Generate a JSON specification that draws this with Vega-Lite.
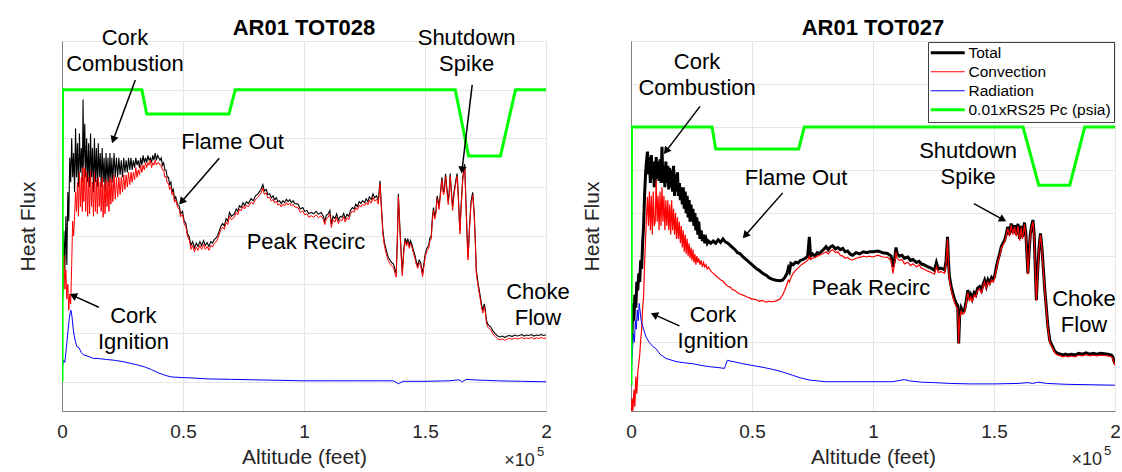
{
"$schema": "https://vega.github.io/schema/vega-lite/v6.json",
"background": "white",
"padding": {"left": 16, "top": 16, "right": 5, "bottom": 2},
"bounds": "flush",
"spacing": 85,
"config": {
  "font": "Liberation Sans",
  "view": {"stroke": "#b4b4b4", "strokeWidth": 1},
  "axis": {"gridColor": "#e6e6e6", "gridWidth": 1, "domainColor": "#808080", "labelColor": "#262626", "titleColor": "#262626", "titleFontWeight": "normal", "labelFont": "Liberation Sans", "titleFont": "Liberation Sans"}
},
"datasets": {
"left": [
{"x":0,"T":1.5,"C":1.5,"R":0.2,"P":0},
{"x":0.002,"T":1.6,"C":1.8},{"x":0.004,"T":1.9,"C":2.1},{"x":0.008,"T":3.1,"C":2.6},{"x":0.012,"T":2.3,"C":1.9},{"x":0.016,"T":3.4,"C":2.3},{"x":0.02,"T":2.4,"C":1.7},{"x":0.024,"T":3.9,"C":2.0},{"x":0.028,"T":3.3,"C":1.47},{"x":0.032,"T":4.6,"C":1.8},{"x":0.036,"T":4.1,"C":1.6},{"x":0.04,"T":5.0,"C":2.4},{"x":0.044,"T":4.2,"C":3.3},{"x":0.048,"T":4.7,"C":3.0},{"x":0.052,"T":3.9,"C":3.4},{"x":0.056,"T":5.2,"C":3.9},{"x":0.06,"T":4.2,"C":3.5},{"x":0.064,"T":4.9,"C":4.1},{"x":0.068,"T":4.0,"C":3.4},{"x":0.072,"T":5.1,"C":4.3},{"x":0.076,"T":4.3,"C":3.6},{"x":0.08,"T":4.8,"C":4.2},{"x":0.084,"T":4.1,"C":3.5},{"x":0.087,"T":5.8,"C":4.4},{"x":0.09,"T":4.4,"C":3.7},{"x":0.094,"T":5.3,"C":4.4},{"x":0.098,"T":4.2,"C":3.5},{"x":0.102,"T":5.0,"C":4.3},{"x":0.106,"T":4.1,"C":3.4},{"x":0.11,"T":4.9,"C":4.2},{"x":0.114,"T":4.0,"C":3.45},{"x":0.118,"T":5.1,"C":4.35},{"x":0.122,"T":4.2,"C":3.6},{"x":0.126,"T":4.8,"C":4.1},{"x":0.13,"T":3.9,"C":3.4},{"x":0.134,"T":5.0,"C":4.3},{"x":0.138,"T":4.1,"C":3.5},{"x":0.142,"T":4.8,"C":4.15},{"x":0.146,"T":4.0,"C":3.45},{"x":0.15,"T":4.9,"C":4.2},{"x":0.154,"T":4.2,"C":3.6},{"x":0.158,"T":4.7,"C":4.1},{"x":0.162,"T":4.0,"C":3.5},{"x":0.166,"T":4.8,"C":4.2},{"x":0.17,"T":4.1,"C":3.38},{"x":0.174,"T":4.6,"C":4.05},{"x":0.178,"T":3.9,"C":3.45},{"x":0.182,"T":4.7,"C":4.15},{"x":0.186,"T":4.1,"C":3.6},{"x":0.19,"T":4.6,"C":4.1},{"x":0.194,"T":4.0,"C":3.5},{"x":0.198,"T":4.7,"C":4.2},{"x":0.202,"T":4.1,"C":3.65},{"x":0.206,"T":4.6,"C":4.15},{"x":0.21,"T":4.1,"C":3.7},{"x":0.215,"T":4.7,"C":4.25},{"x":0.22,"T":4.2,"C":3.75},{"x":0.225,"T":4.6,"C":4.2},{"x":0.23,"T":4.2,"C":3.8},{"x":0.235,"T":4.6,"C":4.2},{"x":0.24,"T":4.25,"C":3.85},{"x":0.245,"T":4.55,"C":4.2},{"x":0.25,"T":4.2,"C":3.9},{"x":0.255,"T":4.6,"C":4.25},{"x":0.26,"T":4.3,"C":3.95},{"x":0.265,"T":4.55,"C":4.25},{"x":0.27,"T":4.3,"C":4.0},{"x":0.275,"T":4.6,"C":4.3},{"x":0.28,"T":4.35,"C":4.05},{"x":0.285,"T":4.6,"C":4.3},{"x":0.29,"T":4.35,"C":4.1},{"x":0.295,"T":4.55,"C":4.3},{"x":0.3,"T":4.4,"C":4.15},{"x":0.305,"T":4.6,"C":4.4},{"x":0.31,"T":4.45,"C":4.2},{"x":0.315,"T":4.55,"C":4.35},{"x":0.32,"T":4.4,"C":4.25},{"x":0.325,"T":4.6,"C":4.45},{"x":0.33,"T":4.45,"C":4.3},{"x":0.335,"T":4.65,"C":4.45},{"x":0.34,"T":4.5,"C":4.35},{"x":0.345,"T":4.6,"C":4.5},{"x":0.35,"T":4.5,"C":4.4},{"x":0.355,"T":4.65,"C":4.5},{"x":0.36,"T":4.55,"C":4.45},{"x":0.365,"T":4.6,"C":4.55},{"x":0.37,"T":4.5,"C":4.4},{"x":0.375,"T":4.65,"C":4.5},{"x":0.38,"T":4.55,"C":4.45},{"x":0.385,"T":4.7,"C":4.55},{"x":0.39,"T":4.55,"C":4.45},{"x":0.395,"T":4.65,"C":4.5},{"x":0.4,"T":4.6,"C":4.5},{"x":0.405,"T":4.55,"C":4.45},{"x":0.41,"T":4.6,"C":4.45},{"x":0.415,"T":4.45,"C":4.35},{"x":0.42,"T":4.5,"C":4.35},{"x":0.425,"T":4.35,"C":4.2},{"x":0.43,"T":4.35,"C":4.22},{"x":0.435,"T":4.2,"C":4.08},{"x":0.44,"T":4.2,"C":4.08},{"x":0.445,"T":4.05,"C":3.95},{"x":0.45,"T":4.1,"C":4.0},
{"x":0.455,"T":3.9,"C":3.84},{"x":0.46,"T":3.95,"C":3.89},{"x":0.465,"T":3.75,"C":3.69},{"x":0.47,"T":3.8,"C":3.74},{"x":0.477,"T":3.65,"C":3.59},{"x":0.485,"T":3.6,"C":3.54},{"x":0.49,"T":3.45,"C":3.39},{"x":0.498,"T":3.5,"C":3.44},{"x":0.505,"T":3.3,"C":3.24},{"x":0.512,"T":3.25,"C":3.19},{"x":0.518,"T":3.05,"C":2.99},{"x":0.526,"T":2.97,"C":2.91},{"x":0.533,"T":2.8,"C":2.72},{"x":0.54,"T":2.88,"C":2.8},{"x":0.547,"T":2.75,"C":2.67},{"x":0.555,"T":2.85,"C":2.77},{"x":0.562,"T":2.78,"C":2.7},{"x":0.57,"T":2.88,"C":2.8},{"x":0.577,"T":2.8,"C":2.72},{"x":0.585,"T":2.9,"C":2.82},{"x":0.592,"T":2.8,"C":2.72},{"x":0.6,"T":2.86,"C":2.78},{"x":0.607,"T":2.78,"C":2.7},{"x":0.615,"T":2.88,"C":2.8},{"x":0.622,"T":2.85,"C":2.77},{"x":0.629,"T":2.92,"C":2.84},{"x":0.636,"T":2.95,"C":2.87},{"x":0.643,"T":3.0,"C":2.93},{"x":0.65,"T":3.1,"C":3.03},{"x":0.657,"T":3.2,"C":3.13},{"x":0.664,"T":3.25,"C":3.18},{"x":0.671,"T":3.2,"C":3.13},{"x":0.678,"T":3.35,"C":3.28},{"x":0.685,"T":3.3,"C":3.23},{"x":0.692,"T":3.48,"C":3.41},{"x":0.7,"T":3.4,"C":3.33},{"x":0.712,"T":3.45,"C":3.38},{"x":0.72,"T":3.55,"C":3.48},{"x":0.727,"T":3.5,"C":3.43},{"x":0.733,"T":3.62,"C":3.55},{"x":0.74,"T":3.58,"C":3.51},{"x":0.748,"T":3.68,"C":3.61},{"x":0.755,"T":3.62,"C":3.55},{"x":0.762,"T":3.7,"C":3.63},{"x":0.77,"T":3.66,"C":3.59},{"x":0.781,"T":3.76,"C":3.69},{"x":0.79,"T":3.72,"C":3.65},{"x":0.8,"T":3.82,"C":3.75},{"x":0.809,"T":3.86,"C":3.79},{"x":0.815,"T":3.9,"C":3.83},{"x":0.822,"T":3.95,"C":3.88},{"x":0.83,"T":4.05,"C":3.98},{"x":0.836,"T":3.92,"C":3.85},{"x":0.844,"T":3.95,"C":3.88},{"x":0.85,"T":3.85,"C":3.78},{"x":0.858,"T":3.86,"C":3.79},{"x":0.865,"T":3.78,"C":3.71},{"x":0.872,"T":3.82,"C":3.75},{"x":0.878,"T":3.74,"C":3.67},{"x":0.886,"T":3.78,"C":3.71},{"x":0.892,"T":3.7,"C":3.63},{"x":0.899,"T":3.72,"C":3.65},{"x":0.906,"T":3.66,"C":3.59},{"x":0.913,"T":3.72,"C":3.65},{"x":0.92,"T":3.68,"C":3.61},{"x":0.927,"T":3.75,"C":3.68},{"x":0.934,"T":3.7,"C":3.63},{"x":0.941,"T":3.74,"C":3.67},{"x":0.948,"T":3.68,"C":3.61},{"x":0.955,"T":3.72,"C":3.65},{"x":0.962,"T":3.66,"C":3.59},{"x":0.975,"T":3.65,"C":3.58},{"x":0.985,"T":3.55,"C":3.48},{"x":0.995,"T":3.58,"C":3.51},{"x":1.003,"T":3.5,"C":3.43},{"x":1.012,"T":3.52,"C":3.45},{"x":1.02,"T":3.45,"C":3.38},{"x":1.03,"T":3.48,"C":3.41},{"x":1.04,"T":3.45,"C":3.38},{"x":1.05,"T":3.5,"C":3.43},{"x":1.06,"T":3.44,"C":3.37},{"x":1.07,"T":3.48,"C":3.41},{"x":1.08,"T":3.4,"C":3.33},{"x":1.086,"T":3.3,"C":3.23},{"x":1.092,"T":3.42,"C":3.35},{"x":1.1,"T":3.45,"C":3.38},{"x":1.107,"T":3.52,"C":3.45},{"x":1.113,"T":3.24,"C":3.17},{"x":1.12,"T":3.4,"C":3.33},{"x":1.128,"T":3.35,"C":3.28},{"x":1.135,"T":3.45,"C":3.38},{"x":1.142,"T":3.32,"C":3.25},{"x":1.15,"T":3.4,"C":3.33},{"x":1.157,"T":3.38,"C":3.31},{"x":1.164,"T":3.46,"C":3.39},{"x":1.17,"T":3.35,"C":3.28},{"x":1.178,"T":3.44,"C":3.37},{"x":1.185,"T":3.4,"C":3.33},{"x":1.192,"T":3.52,"C":3.45},{"x":1.2,"T":3.58,"C":3.51},{"x":1.207,"T":3.55,"C":3.48},{"x":1.214,"T":3.65,"C":3.58},{"x":1.221,"T":3.6,"C":3.53},{"x":1.228,"T":3.7,"C":3.63},{"x":1.235,"T":3.66,"C":3.59},{"x":1.242,"T":3.72,"C":3.65},{"x":1.25,"T":3.68,"C":3.61},{"x":1.257,"T":3.76,"C":3.69},{"x":1.264,"T":3.7,"C":3.63},{"x":1.27,"T":3.8,"C":3.73},{"x":1.278,"T":3.74,"C":3.67},{"x":1.285,"T":3.86,"C":3.79},{"x":1.292,"T":3.78,"C":3.71},{"x":1.3,"T":3.82,"C":3.75},{"x":1.307,"T":3.72,"C":3.65},{"x":1.314,"T":4.13,"C":4.06},{"x":1.32,"T":3.6,"C":3.53},{"x":1.326,"T":3.1,"C":3.03},{"x":1.332,"T":2.87,"C":2.8},{"x":1.34,"T":2.7,"C":2.63},{"x":1.348,"T":2.56,"C":2.49},{"x":1.355,"T":2.5,"C":2.43},{"x":1.362,"T":2.45,"C":2.38},{"x":1.37,"T":2.42,"C":2.35},{"x":1.376,"T":2.3,"C":2.23},{"x":1.381,"T":2.22,"C":2.15},{"x":1.386,"T":3.0,"C":2.94},{"x":1.39,"T":3.86,"C":3.8},{"x":1.395,"T":3.3,"C":3.24},{"x":1.4,"T":2.8,"C":2.74},{"x":1.406,"T":2.25,"C":2.18},{"x":1.412,"T":2.7,"C":2.64},{"x":1.418,"T":2.95,"C":2.89},{"x":1.424,"T":2.85,"C":2.79},{"x":1.429,"T":2.94,"C":2.88},{"x":1.435,"T":2.8,"C":2.74},{"x":1.44,"T":2.9,"C":2.84},{"x":1.446,"T":2.82,"C":2.76},{"x":1.452,"T":2.7,"C":2.64},{"x":1.459,"T":2.59,"C":2.53},{"x":1.465,"T":2.45,"C":2.39},{"x":1.47,"T":2.39,"C":2.33},{"x":1.476,"T":2.5,"C":2.44},{"x":1.482,"T":2.45,"C":2.39},{"x":1.49,"T":2.22,"C":2.16},{"x":1.496,"T":2.45,"C":2.39},{"x":1.501,"T":2.63,"C":2.57},{"x":1.508,"T":2.75,"C":2.69},{"x":1.515,"T":2.8,"C":2.74},{"x":1.52,"T":2.95,"C":2.89},{"x":1.526,"T":3.0,"C":2.94},{"x":1.53,"T":3.35,"C":3.29},{"x":1.535,"T":3.58,"C":3.52},{"x":1.54,"T":3.4,"C":3.34},{"x":1.545,"T":3.5,"C":3.44},{"x":1.55,"T":3.82,"C":3.76},{"x":1.555,"T":3.7,"C":3.64},{"x":1.558,"T":3.6,"C":3.54},{"x":1.564,"T":3.9,"C":3.84},{"x":1.57,"T":4.2,"C":4.14},{"x":1.576,"T":3.9,"C":3.84},{"x":1.58,"T":3.95,"C":3.89},{"x":1.585,"T":4.27,"C":4.21},{"x":1.59,"T":4.0,"C":3.94},{"x":1.596,"T":3.7,"C":3.64},{"x":1.6,"T":3.9,"C":3.84},{"x":1.604,"T":4.28,"C":4.22},{"x":1.608,"T":4.0,"C":3.94},{"x":1.614,"T":3.58,"C":3.52},{"x":1.62,"T":3.9,"C":3.84},{"x":1.626,"T":4.1,"C":4.04},{"x":1.633,"T":4.28,"C":4.22},{"x":1.638,"T":3.8,"C":3.74},{"x":1.644,"T":3.1,"C":3.04},{"x":1.65,"T":3.7,"C":3.64},{"x":1.656,"T":4.2,"C":4.14},{"x":1.664,"T":4.47,"C":4.41},{"x":1.67,"T":3.6,"C":3.54},{"x":1.674,"T":3.0,"C":2.94},{"x":1.678,"T":2.56,"C":2.5},{"x":1.684,"T":3.2,"C":3.14},{"x":1.69,"T":3.7,"C":3.64},{"x":1.697,"T":3.89,"C":3.83},{"x":1.703,"T":3.5,"C":3.44},{"x":1.708,"T":2.9,"C":2.84},{"x":1.712,"T":2.29,"C":2.23},{"x":1.72,"T":2.0,"C":1.94},{"x":1.729,"T":1.74,"C":1.68},{"x":1.735,"T":1.55,"C":1.49},{"x":1.739,"T":1.47,"C":1.41},{"x":1.745,"T":1.6,"C":1.54},{"x":1.749,"T":1.5,"C":1.44},{"x":1.754,"T":1.26,"C":1.2},{"x":1.76,"T":1.18,"C":1.12},{"x":1.771,"T":1.13,"C":1.07},{"x":1.78,"T":1.05,"C":0.99},{"x":1.79,"T":0.99,"C":0.93},{"x":1.8,"T":0.94,"C":0.88},{"x":1.81,"T":0.92,"C":0.86},{"x":1.82,"T":0.94,"C":0.88},{"x":1.83,"T":0.91,"C":0.85},{"x":1.84,"T":0.94,"C":0.88},{"x":1.85,"T":0.95,"C":0.89},{"x":1.86,"T":0.93,"C":0.87},{"x":1.87,"T":0.96,"C":0.9},{"x":1.88,"T":0.94,"C":0.88},{"x":1.89,"T":0.95,"C":0.89},{"x":1.9,"T":0.97,"C":0.91},{"x":1.91,"T":0.94,"C":0.88},{"x":1.92,"T":0.96,"C":0.9},{"x":1.93,"T":0.95,"C":0.89},{"x":1.94,"T":0.97,"C":0.91},{"x":1.95,"T":0.94,"C":0.88},{"x":1.96,"T":0.96,"C":0.9},{"x":1.97,"T":0.95,"C":0.89},{"x":1.98,"T":0.97,"C":0.91},{"x":1.99,"T":0.95,"C":0.89},{"x":2.0,"T":0.96,"C":0.9},
{"x":0.002,"R":0.3},{"x":0.006,"R":0.45},{"x":0.012,"R":0.4},{"x":0.018,"R":0.7},{"x":0.024,"R":1.0},{"x":0.03,"R":1.3},{"x":0.034,"R":1.42},{"x":0.037,"R":1.47},{"x":0.041,"R":1.35},{"x":0.046,"R":1.1},{"x":0.052,"R":0.9},{"x":0.058,"R":0.78},{"x":0.062,"R":0.72},{"x":0.07,"R":0.7},{"x":0.08,"R":0.6},{"x":0.09,"R":0.55},{"x":0.11,"R":0.52},{"x":0.13,"R":0.48},{"x":0.145,"R":0.48},{"x":0.18,"R":0.46},{"x":0.22,"R":0.44},{"x":0.256,"R":0.41},{"x":0.3,"R":0.36},{"x":0.339,"R":0.31},{"x":0.37,"R":0.25},{"x":0.4,"R":0.18},{"x":0.422,"R":0.14},{"x":0.45,"R":0.1},{"x":0.5,"R":0.085},{"x":0.533,"R":0.08},{"x":0.6,"R":0.06},{"x":0.7,"R":0.05},{"x":0.8,"R":0.04},{"x":0.9,"R":0.03},{"x":1.0,"R":0.02},{"x":1.1,"R":0.02},{"x":1.2,"R":0.02},{"x":1.3,"R":0.02},{"x":1.37,"R":0.02},{"x":1.39,"R":-0.04},{"x":1.41,"R":0.01},{"x":1.5,"R":0.01},{"x":1.6,"R":0.02},{"x":1.64,"R":0.04},{"x":1.655,"R":0.0},{"x":1.67,"R":0.05},{"x":1.7,"R":0.04},{"x":1.75,"R":0.03},{"x":1.8,"R":0.02},{"x":1.9,"R":0.01},{"x":2.0,"R":0.0},
{"x":0.002,"P":6},{"x":0.33,"P":6},{"x":0.35,"P":5.5},{"x":0.69,"P":5.5},{"x":0.716,"P":6},{"x":1.625,"P":6},{"x":1.68,"P":4.64},{"x":1.812,"P":4.64},{"x":1.874,"P":6},{"x":2.0,"P":6}
],
"right": [
{"x":0,"T":1.0,"C":-0.6,"R":0.0,"P":0},
{"x":0.002,"T":1.0,"C":-0.6},{"x":0.004,"T":1.2,"C":-0.3},{"x":0.008,"T":1.9,"C":-0.6},{"x":0.012,"T":1.5,"C":-0.1},{"x":0.016,"T":2.1,"C":-0.5},{"x":0.02,"T":1.8,"C":0.2},{"x":0.024,"T":2.4,"C":-0.2},{"x":0.028,"T":2.2,"C":0.3},{"x":0.032,"T":2.6,"C":0.5},{"x":0.036,"T":2.4,"C":0.7},{"x":0.04,"T":2.9,"C":1.05},{"x":0.044,"T":2.7,"C":1.3},{"x":0.048,"T":3.3,"C":1.8},{"x":0.052,"T":3.7,"C":2.05},{"x":0.056,"T":4.4,"C":2.8},{"x":0.06,"T":4.9,"C":3.37},{"x":0.064,"T":5.2,"C":3.9},{"x":0.068,"T":5.43,"C":4.38},{"x":0.072,"T":4.9,"C":3.7},{"x":0.076,"T":5.3,"C":4.5},{"x":0.08,"T":4.7,"C":3.6},{"x":0.084,"T":5.35,"C":4.4},{"x":0.088,"T":4.8,"C":3.5},{"x":0.092,"T":5.2,"C":4.5},{"x":0.096,"T":4.6,"C":3.7},{"x":0.1,"T":4.7,"C":3.8},{"x":0.104,"T":5.3,"C":4.77},{"x":0.108,"T":4.8,"C":3.8},{"x":0.112,"T":5.2,"C":4.4},{"x":0.116,"T":4.75,"C":3.6},{"x":0.12,"T":5.25,"C":4.5},{"x":0.124,"T":4.7,"C":3.7},{"x":0.128,"T":5.54,"C":4.6},{"x":0.132,"T":4.7,"C":3.8},{"x":0.136,"T":5.1,"C":4.4},{"x":0.14,"T":4.6,"C":3.6},{"x":0.144,"T":5.2,"C":4.3},{"x":0.148,"T":4.7,"C":3.7},{"x":0.152,"T":5.1,"C":4.3},{"x":0.156,"T":4.55,"C":3.6},{"x":0.16,"T":5.05,"C":4.2},{"x":0.164,"T":4.6,"C":3.5},{"x":0.168,"T":5.0,"C":4.3},{"x":0.172,"T":4.5,"C":3.6},{"x":0.176,"T":5.1,"C":4.1},{"x":0.18,"T":4.4,"C":3.5},{"x":0.184,"T":4.9,"C":4.0},{"x":0.188,"T":4.5,"C":3.4},{"x":0.192,"T":4.95,"C":3.9},{"x":0.196,"T":4.4,"C":3.4},{"x":0.2,"T":4.7,"C":3.8},{"x":0.204,"T":4.3,"C":3.3},{"x":0.208,"T":4.6,"C":3.7},{"x":0.212,"T":4.2,"C":3.2},{"x":0.216,"T":4.6,"C":3.6},{"x":0.22,"T":4.1,"C":3.1},{"x":0.224,"T":4.5,"C":3.5},{"x":0.228,"T":4.0,"C":3.05},{"x":0.232,"T":4.4,"C":3.4},{"x":0.236,"T":3.9,"C":3.0},{"x":0.24,"T":4.3,"C":3.3},{"x":0.244,"T":3.8,"C":2.95},{"x":0.248,"T":4.2,"C":3.2},{"x":0.252,"T":3.8,"C":2.9},{"x":0.256,"T":4.1,"C":3.15},{"x":0.26,"T":3.7,"C":2.85},{"x":0.264,"T":4.0,"C":3.05},{"x":0.268,"T":3.6,"C":2.8},{"x":0.272,"T":3.9,"C":3.0},{"x":0.276,"T":3.5,"C":2.85},{"x":0.28,"T":3.8,"C":2.95},{"x":0.285,"T":3.4,"C":2.8},{"x":0.29,"T":3.6,"C":2.9},{"x":0.295,"T":3.35,"C":2.75},{"x":0.3,"T":3.5,"C":2.85},{"x":0.305,"T":3.3,"C":2.75},{"x":0.31,"T":3.4,"C":2.8},{"x":0.315,"T":3.3,"C":2.7},{"x":0.32,"T":3.35,"C":2.75},{"x":0.33,"T":3.3,"C":2.65},{"x":0.34,"T":3.35,"C":2.6},{"x":0.35,"T":3.3,"C":2.55},{"x":0.36,"T":3.38,"C":2.5},{"x":0.37,"T":3.32,"C":2.45},{"x":0.38,"T":3.4,"C":2.42},{"x":0.39,"T":3.33,"C":2.35},{"x":0.4,"T":3.3,"C":2.3},{"x":0.41,"T":3.25,"C":2.28},{"x":0.42,"T":3.2,"C":2.22},{"x":0.43,"T":3.15,"C":2.2},{"x":0.44,"T":3.08,"C":2.15},{"x":0.45,"T":3.06,"C":2.12},{"x":0.46,"T":3.0,"C":2.1},{"x":0.47,"T":2.95,"C":2.08},{"x":0.48,"T":2.9,"C":2.05},{"x":0.49,"T":2.85,"C":2.03},{"x":0.5,"T":2.8,"C":2.0},{"x":0.51,"T":2.75,"C":2.0},{"x":0.52,"T":2.7,"C":1.98},{"x":0.53,"T":2.67,"C":1.95},{"x":0.54,"T":2.62,"C":1.97},{"x":0.55,"T":2.58,"C":1.95},{"x":0.56,"T":2.55,"C":1.93},{"x":0.57,"T":2.5,"C":1.95},{"x":0.585,"T":2.46,"C":1.94},{"x":0.6,"T":2.44,"C":1.96},{"x":0.615,"T":2.43,"C":2.0},{"x":0.626,"T":2.44,"C":2.09},{"x":0.635,"T":2.5,"C":2.2},{"x":0.645,"T":2.6,"C":2.35},{"x":0.65,"T":2.72,"C":2.44},{"x":0.655,"T":2.65,"C":2.4},{"x":0.661,"T":2.83,"C":2.5},{"x":0.67,"T":2.8,"C":2.6},{"x":0.68,"T":2.86,"C":2.67},{"x":0.69,"T":2.84,"C":2.72},{"x":0.7,"T":2.9,"C":2.78},{"x":0.71,"T":2.92,"C":2.82},{"x":0.72,"T":2.95,"C":2.86},{"x":0.73,"T":3.0,"C":2.9},{"x":0.737,"T":3.45,"C":3.0},{"x":0.742,"T":3.0,"C":2.92},{"x":0.75,"T":3.05,"C":2.95},{"x":0.76,"T":3.0,"C":2.97},{"x":0.77,"T":3.08,"C":3.0},{"x":0.778,"T":3.06,"C":3.02},{"x":0.79,"T":3.12,"C":3.05},{"x":0.8,"T":3.18,"C":3.08},{"x":0.806,"T":3.22,"C":3.1},{"x":0.815,"T":3.15,"C":3.05},{"x":0.825,"T":3.22,"C":3.12},{"x":0.833,"T":3.24,"C":3.15},{"x":0.845,"T":3.17,"C":3.08},{"x":0.855,"T":3.2,"C":3.1},{"x":0.865,"T":3.15,"C":3.02},{"x":0.875,"T":3.18,"C":3.0},{"x":0.885,"T":3.1,"C":2.95},{"x":0.895,"T":3.12,"C":2.97},{"x":0.905,"T":3.05,"C":2.92},{"x":0.916,"T":3.02,"C":2.91},{"x":0.93,"T":3.08,"C":2.95},{"x":0.945,"T":3.05,"C":2.97},{"x":0.96,"T":3.1,"C":3.0},{"x":0.975,"T":3.08,"C":2.98},{"x":0.985,"T":3.1,"C":3.0},{"x":1.0,"T":3.1,"C":2.98},{"x":1.02,"T":3.12,"C":3.02},{"x":1.04,"T":3.08,"C":2.98},{"x":1.06,"T":3.06,"C":2.97},{"x":1.075,"T":3.0,"C":2.9},{"x":1.082,"T":2.75,"C":2.6},{"x":1.089,"T":2.91,"C":2.8},{"x":1.095,"T":3.2,"C":3.1},{"x":1.1,"T":3.05,"C":2.95},{"x":1.11,"T":3.0,"C":2.9},{"x":1.12,"T":3.02,"C":2.92},{"x":1.13,"T":2.95,"C":2.82},{"x":1.144,"T":2.98,"C":2.86},{"x":1.155,"T":2.9,"C":2.78},{"x":1.165,"T":2.92,"C":2.82},{"x":1.18,"T":2.85,"C":2.75},{"x":1.19,"T":2.88,"C":2.8},{"x":1.2,"T":2.82,"C":2.72},{"x":1.21,"T":2.8,"C":2.7},{"x":1.227,"T":2.75,"C":2.65},{"x":1.24,"T":2.72,"C":2.62},{"x":1.254,"T":2.67,"C":2.58},{"x":1.262,"T":2.85,"C":2.75},{"x":1.27,"T":2.7,"C":2.62},{"x":1.28,"T":2.72,"C":2.64},{"x":1.29,"T":2.7,"C":2.62},{"x":1.296,"T":2.68,"C":2.6},{"x":1.302,"T":2.9,"C":2.85},{"x":1.308,"T":3.45,"C":3.4},{"x":1.312,"T":2.85,"C":2.8},{"x":1.316,"T":2.52,"C":2.45},{"x":1.323,"T":2.3,"C":2.22},{"x":1.33,"T":2.13,"C":2.05},{"x":1.337,"T":2.0,"C":1.92},{"x":1.344,"T":1.9,"C":1.82},{"x":1.35,"T":1.85,"C":1.78},{"x":1.354,"T":0.97,"C":0.97},{"x":1.358,"T":1.6,"C":1.55},{"x":1.364,"T":1.8,"C":1.72},{"x":1.37,"T":1.72,"C":1.65},{"x":1.378,"T":1.74,"C":1.68},{"x":1.385,"T":1.95,"C":1.9},{"x":1.392,"T":2.21,"C":2.15},{"x":1.398,"T":2.0,"C":1.95},{"x":1.404,"T":2.1,"C":2.05},{"x":1.41,"T":2.0,"C":1.95},{"x":1.418,"T":2.15,"C":2.1},{"x":1.425,"T":2.1,"C":2.05},{"x":1.432,"T":2.25,"C":2.2},{"x":1.44,"T":2.29,"C":2.24},{"x":1.448,"T":2.2,"C":2.15},{"x":1.455,"T":2.35,"C":2.3},{"x":1.461,"T":2.44,"C":2.4},{"x":1.468,"T":2.3,"C":2.25},{"x":1.475,"T":2.45,"C":2.4},{"x":1.482,"T":2.38,"C":2.33},{"x":1.49,"T":2.5,"C":2.45},{"x":1.496,"T":2.45,"C":2.4},{"x":1.502,"T":2.52,"C":2.48},{"x":1.51,"T":2.75,"C":2.7},{"x":1.516,"T":2.91,"C":2.87},{"x":1.523,"T":3.05,"C":3.0},{"x":1.53,"T":3.22,"C":3.18},{"x":1.537,"T":3.3,"C":3.26},{"x":1.544,"T":3.37,"C":3.33},{"x":1.55,"T":3.5,"C":3.46},{"x":1.557,"T":3.68,"C":3.64},{"x":1.564,"T":3.5,"C":3.46},{"x":1.571,"T":3.76,"C":3.72},{"x":1.578,"T":3.55,"C":3.5},{"x":1.585,"T":3.72,"C":3.68},{"x":1.592,"T":3.5,"C":3.46},{"x":1.599,"T":3.75,"C":3.7},{"x":1.606,"T":3.4,"C":3.36},{"x":1.612,"T":3.7,"C":3.66},{"x":1.618,"T":3.45,"C":3.4},{"x":1.626,"T":3.78,"C":3.74},{"x":1.632,"T":3.5,"C":3.46},{"x":1.64,"T":2.6,"C":2.58},{"x":1.645,"T":3.1,"C":3.06},{"x":1.65,"T":3.5,"C":3.46},{"x":1.655,"T":3.7,"C":3.66},{"x":1.661,"T":3.84,"C":3.8},{"x":1.666,"T":3.5,"C":3.46},{"x":1.67,"T":2.8,"C":2.76},{"x":1.675,"T":1.98,"C":1.96},{"x":1.68,"T":2.6,"C":2.56},{"x":1.686,"T":3.2,"C":3.16},{"x":1.692,"T":3.53,"C":3.49},{"x":1.698,"T":3.2,"C":3.16},{"x":1.704,"T":2.7,"C":2.66},{"x":1.71,"T":2.2,"C":2.16},{"x":1.716,"T":1.82,"C":1.78},{"x":1.722,"T":1.4,"C":1.36},{"x":1.73,"T":1.05,"C":1.01},{"x":1.737,"T":0.95,"C":0.91},{"x":1.743,"T":0.89,"C":0.85},{"x":1.75,"T":0.8,"C":0.76},{"x":1.757,"T":0.76,"C":0.72},{"x":1.764,"T":0.74,"C":0.7},{"x":1.775,"T":0.72,"C":0.68},{"x":1.785,"T":0.7,"C":0.66},{"x":1.795,"T":0.72,"C":0.68},{"x":1.805,"T":0.7,"C":0.66},{"x":1.82,"T":0.72,"C":0.68},{"x":1.835,"T":0.7,"C":0.66},{"x":1.85,"T":0.74,"C":0.7},{"x":1.865,"T":0.72,"C":0.68},{"x":1.88,"T":0.75,"C":0.71},{"x":1.895,"T":0.72,"C":0.68},{"x":1.91,"T":0.74,"C":0.7},{"x":1.925,"T":0.72,"C":0.68},{"x":1.94,"T":0.74,"C":0.7},{"x":1.955,"T":0.73,"C":0.69},{"x":1.97,"T":0.72,"C":0.68},{"x":1.985,"T":0.7,"C":0.66},{"x":1.991,"T":0.66,"C":0.62},{"x":1.996,"T":0.55,"C":0.52},{"x":2.0,"T":0.5,"C":0.46},
{"x":0.002,"R":0.3},{"x":0.006,"R":0.8},{"x":0.01,"R":1.2},{"x":0.014,"R":1.0},{"x":0.018,"R":1.5},{"x":0.022,"R":1.3},{"x":0.026,"R":1.75},{"x":0.03,"R":1.5},{"x":0.034,"R":1.9},{"x":0.038,"R":1.7},{"x":0.042,"R":1.5},{"x":0.046,"R":1.42},{"x":0.052,"R":1.3},{"x":0.062,"R":1.12},{"x":0.075,"R":1.0},{"x":0.09,"R":0.9},{"x":0.103,"R":0.85},{"x":0.12,"R":0.72},{"x":0.145,"R":0.62},{"x":0.186,"R":0.55},{"x":0.22,"R":0.52},{"x":0.255,"R":0.5},{"x":0.29,"R":0.46},{"x":0.324,"R":0.43},{"x":0.36,"R":0.41},{"x":0.386,"R":0.39},{"x":0.39,"R":0.45},{"x":0.398,"R":0.58},{"x":0.41,"R":0.56},{"x":0.43,"R":0.54},{"x":0.461,"R":0.5},{"x":0.5,"R":0.46},{"x":0.55,"R":0.41},{"x":0.599,"R":0.35},{"x":0.63,"R":0.3},{"x":0.668,"R":0.23},{"x":0.7,"R":0.17},{"x":0.737,"R":0.12},{"x":0.77,"R":0.1},{"x":0.806,"R":0.08},{"x":0.9,"R":0.08},{"x":1.0,"R":0.08},{"x":1.08,"R":0.08},{"x":1.1,"R":0.1},{"x":1.13,"R":0.13},{"x":1.15,"R":0.1},{"x":1.2,"R":0.07},{"x":1.25,"R":0.06},{"x":1.32,"R":0.04},{"x":1.4,"R":0.03},{"x":1.5,"R":0.03},{"x":1.6,"R":0.04},{"x":1.64,"R":0.06},{"x":1.66,"R":0.04},{"x":1.68,"R":0.07},{"x":1.72,"R":0.04},{"x":1.8,"R":0.02},{"x":1.9,"R":0.01},{"x":2.0,"R":0.0},
{"x":0.002,"P":6},{"x":0.335,"P":6},{"x":0.35,"P":5.49},{"x":0.693,"P":5.49},{"x":0.716,"P":6},{"x":1.62,"P":6},{"x":1.685,"P":4.65},{"x":1.813,"P":4.65},{"x":1.875,"P":6},{"x":2.0,"P":6}
],
"ttl": [
{"p":"L","t":"AR01 TOT028","x":1.0,"y":7.27},
{"p":"R","t":"AR01 TOT027","x":1.0,"y":8.31}
],
"ann": [
{"p":"L","t":"Cork\nCombustion","x":0.26,"y":7.06},
{"p":"L","t":"Flame Out","x":0.705,"y":4.93},
{"p":"L","t":"Peak Recirc","x":1.008,"y":2.88},
{"p":"L","t":"Shutdown\nSpike","x":1.672,"y":7.06},
{"p":"L","t":"Choke\nFlow","x":1.967,"y":1.85},
{"p":"L","t":"Cork\nIgnition","x":0.295,"y":1.36},
{"p":"R","t":"Cork\nCombustion","x":0.273,"y":7.52},
{"p":"R","t":"Flame Out","x":0.682,"y":4.82},
{"p":"R","t":"Peak Recirc","x":0.992,"y":2.27},
{"p":"R","t":"Shutdown\nSpike","x":1.393,"y":5.44},
{"p":"R","t":"Choke\nFlow","x":1.872,"y":2.0},
{"p":"R","t":"Cork\nIgnition","x":0.339,"y":1.62}
],
"arr": [
{"p":"L","x":0.303,"y":6.2,"x2":0.212,"y2":4.97},
{"p":"L","x":0.65,"y":4.59,"x2":0.494,"y2":3.7},
{"p":"L","x":1.695,"y":6.1,"x2":1.653,"y2":4.35},
{"p":"L","x":0.152,"y":1.53,"x2":0.046,"y2":1.77},
{"p":"R","x":0.285,"y":6.48,"x2":0.145,"y2":5.44},
{"p":"R","x":0.627,"y":4.47,"x2":0.472,"y2":3.48},
{"p":"R","x":1.417,"y":4.22,"x2":1.537,"y2":3.85},
{"p":"R","x":0.2,"y":1.38,"x2":0.096,"y2":1.64}
],
"exp": [
{"p":"L","t":"×10","x":1.954,"y":-1.62},
{"p":"L","t":"5","x":1.963,"y":-1.45},
{"p":"R","t":"×10","x":1.946,"y":-1.74},
{"p":"R","t":"5","x":1.955,"y":-1.54}
]
},
"hconcat": [
{
 "width": 484, "height": 370,
 "encoding": {
  "x": {"field": "x", "type": "quantitative", "scale": {"domain": [0, 2], "nice": false, "zero": false},
        "axis": {"title": "Altitude (feet)", "values": [0, 0.5, 1, 1.5, 2], "format": "~g", "labelFontSize": 19, "titleFontSize": 21, "ticks": false, "tickSize": 0, "labelPadding": 11, "titlePadding": 5, "labelFlush": false, "grid": true}},
  "y": {"field": "y", "type": "quantitative", "scale": {"domain": [-0.6, 7], "nice": false, "zero": false},
        "axis": {"title": "Heat Flux", "values": [0, 1, 2, 3, 4, 5, 6, 7], "labels": false, "ticks": false, "tickSize": 0, "titleFontSize": 21, "titlePadding": 24, "grid": true}}
 },
 "layer": [
  {
   "data": {"name": "left"},
   "transform": [{"fold": ["T", "C", "R", "P"], "as": ["s", "y"]}, {"filter": "isValid(datum.y)"}],
   "mark": {"type": "line", "clip": true},
   "encoding": {
    "color": {"field": "s", "type": "nominal", "scale": {"domain": ["T", "C", "R", "P"], "range": ["#000000", "#ff0000", "#0000ff", "#00ff00"]}, "legend": null},
    "strokeWidth": {"field": "s", "type": "nominal", "scale": {"type": "ordinal", "domain": ["T", "C", "R", "P"], "range": [1.1, 1, 1, 3]}, "legend": null}
   }
  },
  {
   "data": {"name": "arr"},
   "transform": [{"filter": "datum.p == 'L'"}],
   "mark": {"type": "rule", "color": "#000000", "strokeWidth": 1.5},
   "encoding": {"x2": {"field": "x2"}, "y2": {"field": "y2"}}
  },
  {
   "data": {"name": "arr"},
   "transform": [{"filter": "datum.p == 'L'"}, {"calculate": "atan2((datum.x2 - datum.x) * 241, (datum.y2 - datum.y) * 48.7) * 180 / PI", "as": "ang"}],
   "mark": {"type": "point", "shape": "triangle-up", "filled": true, "color": "#000000", "size": 70, "opacity": 1},
   "encoding": {"x": {"field": "x2", "type": "quantitative"}, "y": {"field": "y2", "type": "quantitative"}, "angle": {"field": "ang", "type": "quantitative", "scale": null}}
  },
  {
   "data": {"name": "ann"},
   "transform": [{"filter": "datum.p == 'L'"}],
   "mark": {"type": "text", "fontSize": 22, "lineBreak": "\n", "lineHeight": 26, "align": "center", "baseline": "middle", "color": "#000000"},
   "encoding": {"text": {"field": "t"}}
  },
  {
   "data": {"name": "ttl"},
   "transform": [{"filter": "datum.p == 'L'"}],
   "mark": {"type": "text", "fontSize": 22, "fontWeight": "bold", "align": "center", "baseline": "middle", "color": "#000000"},
   "encoding": {"text": {"field": "t"}}
  },
  {
   "data": {"name": "exp"},
   "transform": [{"filter": "datum.p == 'L' && datum.t != '5'"}],
   "mark": {"type": "text", "fontSize": 18, "align": "right", "baseline": "middle", "color": "#262626"},
   "encoding": {"text": {"field": "t"}}
  },
  {
   "data": {"name": "exp"},
   "transform": [{"filter": "datum.p == 'L' && datum.t == '5'"}],
   "mark": {"type": "text", "fontSize": 13, "align": "left", "baseline": "middle", "color": "#262626"},
   "encoding": {"text": {"field": "t"}}
  }
 ]
},
{
 "width": 484, "height": 370,
 "encoding": {
  "x": {"field": "x", "type": "quantitative", "scale": {"domain": [0, 2], "nice": false, "zero": false},
        "axis": {"title": "Altitude (feet)", "values": [0, 0.5, 1, 1.5, 2], "format": "~g", "labelFontSize": 19, "titleFontSize": 21, "ticks": false, "tickSize": 0, "labelPadding": 11, "titlePadding": 5, "labelFlush": false, "grid": true}},
  "y": {"field": "y", "type": "quantitative", "scale": {"domain": [-0.6, 8], "nice": false, "zero": false},
        "axis": {"title": "Heat Flux", "values": [0, 1, 2, 3, 4, 5, 6, 7, 8], "labels": false, "ticks": false, "tickSize": 0, "titleFontSize": 21, "titlePadding": 29, "grid": true}}
 },
 "layer": [
  {
   "data": {"name": "right"},
   "transform": [{"fold": ["T", "C", "R", "P"], "as": ["s", "y"]}, {"filter": "isValid(datum.y)"}],
   "mark": {"type": "line", "clip": true},
   "encoding": {
    "color": {"field": "s", "type": "nominal", "scale": {"domain": ["T", "C", "R", "P"], "range": ["#000000", "#ff0000", "#0000ff", "#00ff00"]},
      "legend": {"orient": "top-right", "offset": 1, "title": null, "labelExpr": "datum.value == 'T' ? 'Total' : datum.value == 'C' ? 'Convection' : datum.value == 'R' ? 'Radiation' : '0.01xRS25 Pc (psia)'",
        "symbolType": "M-1.6,0H5.2", "symbolSize": 100, "labelOffset": 22, "labelFontSize": 15.5, "labelColor": "#000000", "labelFont": "Liberation Sans",
        "strokeColor": "#404040", "fillColor": "#ffffff", "padding": 3, "rowPadding": 2, "symbolStrokeWidth": 2,
        "encode": {"symbols": {"update": {"strokeWidth": {"signal": "datum.value == 'T' || datum.value == 'P' ? 3.5 : 1.2"}}}}}},
    "strokeWidth": {"field": "s", "type": "nominal", "scale": {"type": "ordinal", "domain": ["T", "C", "R", "P"], "range": [3, 1.2, 1, 3]}, "legend": null}
   }
  },
  {
   "data": {"name": "arr"},
   "transform": [{"filter": "datum.p == 'R'"}],
   "mark": {"type": "rule", "color": "#000000", "strokeWidth": 1.5},
   "encoding": {"x2": {"field": "x2"}, "y2": {"field": "y2"}}
  },
  {
   "data": {"name": "arr"},
   "transform": [{"filter": "datum.p == 'R'"}, {"calculate": "atan2((datum.x2 - datum.x) * 242, (datum.y2 - datum.y) * 43.1) * 180 / PI", "as": "ang"}],
   "mark": {"type": "point", "shape": "triangle-up", "filled": true, "color": "#000000", "size": 70, "opacity": 1},
   "encoding": {"x": {"field": "x2", "type": "quantitative"}, "y": {"field": "y2", "type": "quantitative"}, "angle": {"field": "ang", "type": "quantitative", "scale": null}}
  },
  {
   "data": {"name": "ann"},
   "transform": [{"filter": "datum.p == 'R'"}],
   "mark": {"type": "text", "fontSize": 22, "lineBreak": "\n", "lineHeight": 26, "align": "center", "baseline": "middle", "color": "#000000"},
   "encoding": {"text": {"field": "t"}}
  },
  {
   "data": {"name": "ttl"},
   "transform": [{"filter": "datum.p == 'R'"}],
   "mark": {"type": "text", "fontSize": 22, "fontWeight": "bold", "align": "center", "baseline": "middle", "color": "#000000"},
   "encoding": {"text": {"field": "t"}}
  },
  {
   "data": {"name": "exp"},
   "transform": [{"filter": "datum.p == 'R' && datum.t != '5'"}],
   "mark": {"type": "text", "fontSize": 18, "align": "right", "baseline": "middle", "color": "#262626"},
   "encoding": {"text": {"field": "t"}}
  },
  {
   "data": {"name": "exp"},
   "transform": [{"filter": "datum.p == 'R' && datum.t == '5'"}],
   "mark": {"type": "text", "fontSize": 13, "align": "left", "baseline": "middle", "color": "#262626"},
   "encoding": {"text": {"field": "t"}}
  }
 ]
}
],
"resolve": {"scale": {"x": "independent", "y": "independent", "strokeWidth": "independent"}, "legend": {"color": "independent"}}
}
